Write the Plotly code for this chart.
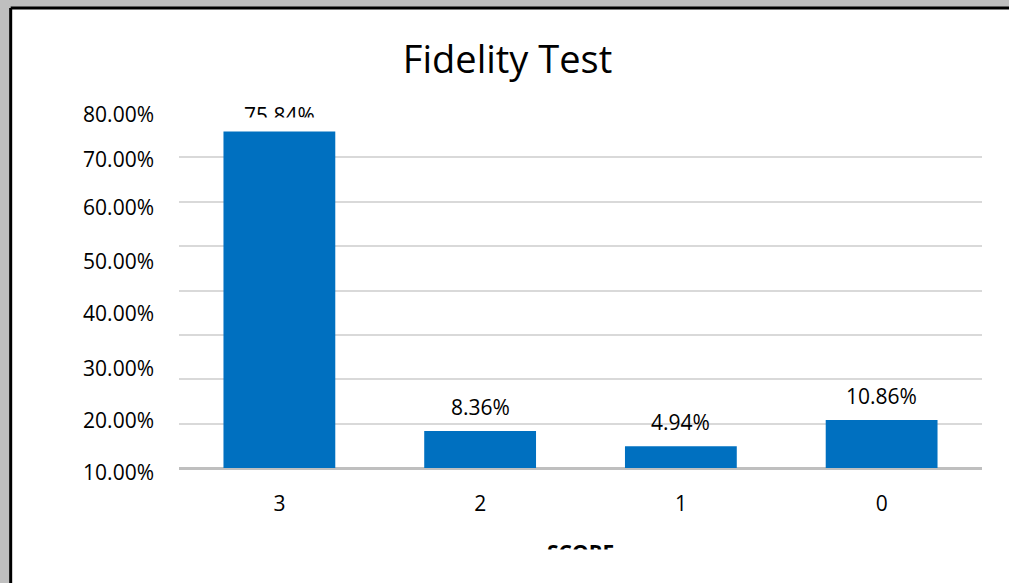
import plotly.graph_objects as go

# ---- data ----
categories = ["3", "2", "1", "0"]
values = [75.84, 8.36, 4.94, 10.86]
y_tick_labels = ["80.00%", "70.00%", "60.00%", "50.00%", "40.00%", "30.00%", "20.00%", "10.00%"]
title_text = "Fidelity Test"
x_title = "SCORE"

# ---- style / layout positions ----
label_positions = [79.6, 69.5, 58.7, 46.5, 34.7, 22.3, 10.6, -1.1]
grid_vals = [10, 20, 30, 40, 50, 60, 70]
y_range = [-2, 80]
label_shifts = [16, 24, 24, 24]
FONT = "Open Sans"
BAR_COLOR = "#0070C0"
FS = 21
FRAME_GRAY = "#bfbfbf"

fig = go.Figure()
fig.add_trace(go.Bar(
    x=categories, y=values, marker=dict(color=BAR_COLOR, line=dict(width=0)),
    yaxis="y", hoverinfo="skip", showlegend=False,
))

annotations = []
for i, v in enumerate(values):
    annotations.append(dict(
        x=i, y=v, xref="x", yref="y", text=f"{v:.2f}%", showarrow=False,
        yanchor="middle", yshift=label_shifts[i], font=dict(family=FONT, size=FS, color="#000000"),
    ))
# clipping look of the top label
annotations.append(dict(
    x=0, y=values[0], xref="x", yref="y", text=" ", showarrow=False,
    yanchor="bottom", yshift=1, width=110, height=11, bgcolor="#ffffff", borderpad=0,
))
# x axis title (clipped look)
annotations.append(dict(
    x=0.5, y=-0.162, xref="paper", yref="paper", text=f"<b>{x_title}</b>", showarrow=False,
    yanchor="top", font=dict(family=FONT, size=FS, color="#000000"),
))
annotations.append(dict(
    x=0.5, y=-0.198, xref="paper", yref="paper", text=" ", showarrow=False,
    yanchor="top", width=140, height=40, bgcolor="#ffffff", borderpad=0,
))

FX0, FY1 = -0.2096, 1.2885  # frame left / top edges in paper units
shapes = [
    dict(type="rect", xref="paper", yref="paper", x0=-1, x1=2, y0=FY1, y1=2,
         fillcolor=FRAME_GRAY, line=dict(width=0), layer="below"),
    dict(type="rect", xref="paper", yref="paper", x0=-1, x1=FX0, y0=-1, y1=2,
         fillcolor=FRAME_GRAY, line=dict(width=0), layer="below"),
    dict(type="line", xref="paper", yref="paper", x0=FX0, x1=2, y0=FY1, y1=FY1,
         line=dict(color="#000000", width=3), layer="below"),
    dict(type="line", xref="paper", yref="paper", x0=FX0, x1=FX0, y0=-1, y1=FY1,
         line=dict(color="#000000", width=3), layer="below"),
]

fig.update_layout(
    width=1009, height=583,
    margin=dict(l=178.5, r=26.5, t=113, b=106),
    paper_bgcolor="#ffffff", plot_bgcolor="rgba(0,0,0,0)",
    font=dict(family=FONT, size=FS, color="#000000"),
    title=dict(text=title_text, x=0.503, xanchor="center", y=0.897, yanchor="middle",
               font=dict(family=FONT, size=38, color="#000000")),
    bargap=0.443,
    xaxis=dict(showgrid=False, showline=False, ticks="", zeroline=False,
               tickfont=dict(family=FONT, size=FS, color="#000000"), ticklabelstandoff=12),
    yaxis=dict(range=y_range, tickvals=grid_vals, showticklabels=False, showgrid=True,
               gridcolor="#d9d9d9", gridwidth=2, zeroline=True, zerolinecolor="#bfbfbf",
               zerolinewidth=3, showline=False, ticks=""),
    yaxis2=dict(range=y_range, overlaying="y", side="left", tickvals=label_positions,
                ticktext=y_tick_labels, showgrid=False, zeroline=False, showline=False,
                ticks="", ticklabelstandoff=24,
                tickfont=dict(family=FONT, size=FS, color="#000000")),
    annotations=annotations,
    shapes=shapes,
)
# invisible trace to activate yaxis2
fig.add_trace(go.Scatter(x=[categories[0]], y=[values[0]], yaxis="y2", mode="markers",
                         marker=dict(opacity=0), hoverinfo="skip", showlegend=False))

fig.write_html(
    "out.html", config={"displayModeBar": False},
    post_script=("document.documentElement.style.overflow='hidden';"
                 "document.documentElement.style.margin='0';"
                 "document.body.style.margin='0';document.body.style.overflow='hidden';"),
)
